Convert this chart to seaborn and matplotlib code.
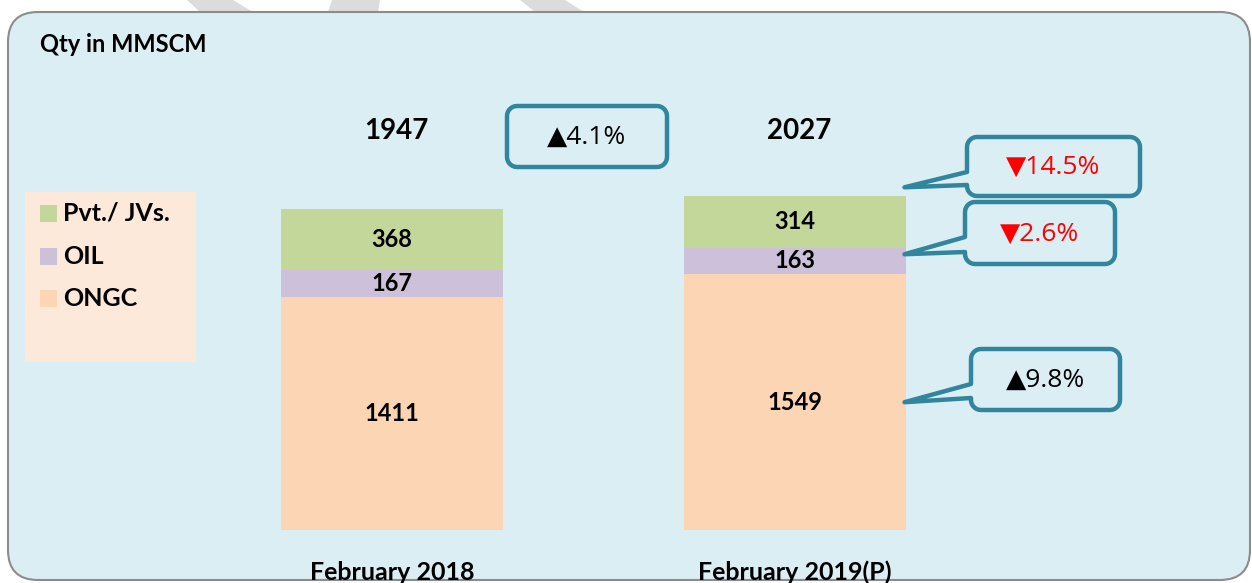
import numpy as np
import pandas as pd
import seaborn as sns
import matplotlib.pyplot as plt
from matplotlib.patches import FancyBboxPatch, Rectangle, PathPatch, Polygon
from matplotlib.path import Path

periods = ['February 2018', 'February 2019(P)']
ongc = [1411, 1549]
oil = [167, 163]
pvt = [368, 314]
totals = [1947, 2027]
series_names = ['Pvt./ JVs.', 'OIL', 'ONGC']
total_change = '▲4.1%'
segment_changes = ['▼14.5%', '▼2.6%', '▲9.8%']
segment_change_colors = ['#FF0000', '#FF0000', 'black']

green = '#C4D79B'
purple = '#CCC0DA'
orange = '#FCD5B4'
bg_col = '#DBEEF4'
teal = '#31859C'

sns.set_theme(style='white')
plt.rcParams['font.family'] = ['Lato', 'DejaVu Sans']
plt.rcParams['text.color'] = 'black'

df = pd.DataFrame({'period': periods, 'ONGC': ongc, 'OIL': oil, 'Pvt': pvt, 'Total': totals})
df['ONGC+OIL'] = df['ONGC'] + df['OIL']

W, H = 1252, 583
fig = plt.figure(figsize=(W / 100, H / 100), dpi=100)

# background layer (pixel coords, y down)
bg = fig.add_axes([0, 0, 1, 1], zorder=0)
bg.set_xlim(0, W)
bg.set_ylim(H, 0)
bg.axis('off')
for poly in [[(187, 0), (233, 0), (253, 12), (200, 12)],
             [(332, 0), (380, 0), (378, 12), (328, 12)],
             [(520, 0), (565, 0), (584, 12), (535, 12)]]:
    bg.add_patch(Polygon(poly, closed=True, facecolor='#DCDCDC', edgecolor='none'))
bg.add_patch(FancyBboxPatch((8, 12), 1242, 568, boxstyle='round,pad=0,rounding_size=30',
                            facecolor=bg_col, edgecolor='#8C8C8C', linewidth=1.5))
bg.text(40, 44, 'Qty in MMSCM', fontsize=17, fontweight='bold', va='center')

# legend box
bg.add_patch(Rectangle((25, 192), 171, 170, facecolor='#FDE9D9', edgecolor='none'))
for name, col, yc in zip(series_names, [green, purple, orange], [213, 256, 298]):
    bg.add_patch(Rectangle((40, yc - 8.5), 17, 17, facecolor=col, edgecolor='none'))
    bg.text(63, yc, name, fontsize=18, fontweight='bold', va='center')

# bars
scale = 0.165  # px per unit
ax = fig.add_axes([190.75 / W, 53 / H, 805 / W, 518 / H], zorder=1)
ax.patch.set_visible(False)
bw = 222 / 402.5
sns.barplot(data=df, x='period', y='Total', color=green, saturation=1, width=bw, linewidth=0, ax=ax)
sns.barplot(data=df, x='period', y='ONGC+OIL', color=purple, saturation=1, width=bw, linewidth=0, ax=ax)
sns.barplot(data=df, x='period', y='ONGC', color=orange, saturation=1, width=bw, linewidth=0, ax=ax)
ax.set_xlim(-0.5, 1.5)
ax.set_ylim(0, 518 / scale)
for s in ax.spines.values():
    s.set_visible(False)
ax.set_yticks([])
ax.set_xlabel('')
ax.set_ylabel('')
ax.tick_params(axis='x', length=0, pad=22)
for lab in ax.get_xticklabels():
    lab.set_fontsize(18)
    lab.set_fontweight('bold')
    lab.set_color('black')

for i, row in df.iterrows():
    ax.text(i, row['ONGC'] / 2, f"{row['ONGC']}", ha='center', va='center', fontsize=17, fontweight='bold')
    ax.text(i, row['ONGC'] + row['OIL'] / 2, f"{row['OIL']}", ha='center', va='center', fontsize=17, fontweight='bold')
    ax.text(i, row['ONGC+OIL'] + (row['Total'] - row['ONGC+OIL']) / 2, f"{row['Pvt']}", ha='center', va='center',
            fontsize=17, fontweight='bold')
    ax.text(i + 0.012, 2418, f"{row['Total']}", ha='center', va='center', fontsize=20, fontweight='bold')

# callouts layer
co = fig.add_axes([0, 0, 1, 1], zorder=2)
co.set_xlim(0, W)
co.set_ylim(H, 0)
co.axis('off')
co.patch.set_visible(False)


def arc(cx, cy, r, a0, a1, n=8):
    t = np.radians(np.linspace(a0, a1, n))
    return list(zip(cx + r * np.cos(t), cy + r * np.sin(t)))


def callout(x0, y0, x1, y1, text, color, tip=None, base=None, r=10):
    # y down coordinates; go around the rounded box
    pts = [(x0 + r, y0), (x1 - r, y0)]
    pts += arc(x1 - r, y0 + r, r, -90, 0)
    pts += [(x1, y1 - r)]
    pts += arc(x1 - r, y1 - r, r, 0, 90)
    pts += [(x0 + r, y1)]
    pts += arc(x0 + r, y1 - r, r, 90, 180)
    if tip is not None:
        pts += [(x0, base[1]), tip, (x0, base[0])]
    pts += [(x0, y0 + r)]
    pts += arc(x0 + r, y0 + r, r, 180, 270)
    path = Path(pts + [pts[0]], closed=True)
    co.add_patch(PathPatch(path, facecolor=bg_col, edgecolor=teal, linewidth=3.2, joinstyle='round'))
    co.text((x0 + x1) / 2, (y0 + y1) / 2 + 1, text, ha='center', va='center', fontsize=19,
            color=color, family=['Open Sans', 'DejaVu Sans'])


def to_px(x, y):
    d = ax.transData.transform((x, y))
    return tuple(co.transData.inverted().transform(d))


callout(507, 106, 667, 167, total_change, 'black')

right = 1 + bw / 2
tip_vals = [df['Total'][1] + 50, df['ONGC'][1] + df['OIL'][1] * 0.75, df['ONGC'][1] / 2]
boxes = [(967, 137, 1140, 196, (172, 185)),
         (965, 202, 1115, 264, (237, 252)),
         (971, 349, 1120, 410, (384, 398))]
for (x0, y0, x1, y1, base), lab, col, tv in zip(boxes, segment_changes, segment_change_colors, tip_vals):
    tx, ty = to_px(right, tv)
    callout(x0, y0, x1, y1, lab, col, tip=(tx - 1, ty), base=base)

fig.savefig('out.png', dpi=100)
